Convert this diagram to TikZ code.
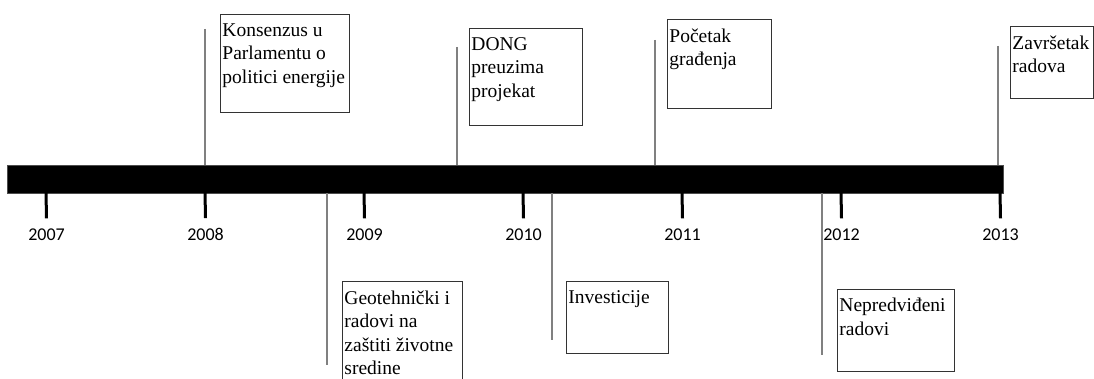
\documentclass[tikz,border=0pt]{standalone}
\usepackage{fontspec}
\setmainfont{Liberation Serif}
\newfontfamily\yearfont{Carlito}
\usetikzlibrary{positioning}

\newcommand{\evtext}[3]{\parbox[t][#2][t]{#1}{#3}}

\tikzset{
  event/.style={draw=black!80,line width=0.9pt,anchor=north west,inner xsep=2pt,inner ysep=9pt,font=\fontsize{19.5}{23.5}\selectfont},
  pin/.style={draw=black!50,line width=1.5pt},
  yeartick/.style={line width=3pt},
  year/.style={font=\yearfont\fontsize{18}{20}\selectfont,inner sep=0pt}
}

\begin{document}
\begin{tikzpicture}[x=1pt,y=-1pt]
\clip (0,0) rectangle (1094,379);
\node[fill=black,draw=black!70,minimum width=996pt,minimum height=28pt,inner sep=0pt,anchor=north west] (bar) at (7,165) {};
\foreach \yr [count=\i from 0] in {2007,...,2013} {
  \coordinate (t\yr) at ({46+159*\i},192);
  \node[year] (y\yr) at ({46.5+159*\i},234.5) {\yr};
  \draw[yeartick] (t\yr) -- ([yshift=10pt]y\yr.north);
}
\coordinate (p-konsenzus) at (205,29);
\coordinate (p-dong) at (457,47);
\coordinate (p-pocetak) at (655,40);
\coordinate (p-zavrsetak) at (998,46);
\coordinate (p-geoteh) at (327,365);
\coordinate (p-investicije) at (552,340);
\coordinate (p-nepredvideni) at (822,355);
\foreach \ev in {konsenzus,dong,pocetak,zavrsetak}
  \draw[pin] (p-\ev) -- (p-\ev |- bar.north);
\foreach \ev in {geoteh,investicije,nepredvideni}
  \draw[pin] (p-\ev |- bar.south) -- (p-\ev);
\node[event] (konsenzus) at (220,14) {\evtext{125pt}{80pt}{Konsenzus u\\Parlamentu o\\politici energije}};
\node[event] (dong) at (469,28) {\evtext{109pt}{79pt}{DONG\\preuzima\\projekat}};
\node[event] (pocetak) at (667,19) {\evtext{100pt}{71pt}{Početak\\građenja}};
\node[event] (zavrsetak) at (1010,26) {\evtext{79pt}{54pt}{Završetak\\radova}};
\node[event] (geoteh) at (342,281) {\evtext{116pt}{92pt}{Geotehnički i\\radovi na\\zaštiti životne\\sredine}};
\node[event] (investicije) at (566,281) {\evtext{98pt}{54pt}{Investicije}};
\node[event] (nepredvideni) at (837,289) {\evtext{113pt}{64pt}{Nepredviđeni\\radovi}};
\end{tikzpicture}
\end{document}
